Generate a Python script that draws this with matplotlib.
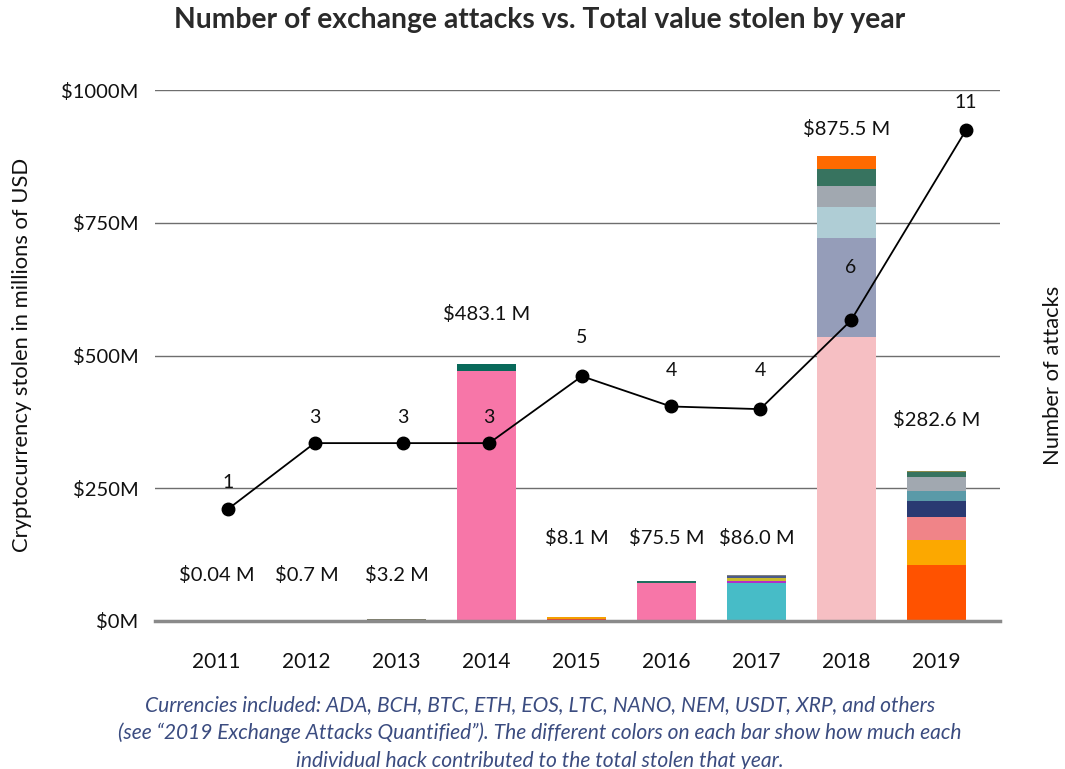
import matplotlib
matplotlib.use("Agg")
import matplotlib.pyplot as plt
import numpy as np

# ---- data ----
years = ["2011", "2012", "2013", "2014", "2015", "2016", "2017", "2018", "2019"]
totals = ["$0.04 M", "$0.7 M", "$3.2 M", "$483.1 M", "$8.1 M", "$75.5 M", "$86.0 M",
          "$875.5 M", "$282.6 M"]
attacks = [1, 3, 3, 3, 5, 4, 4, 6, 11]

# individual hacks per year, bottom to top ($M)
hacks_2011 = [0.04]
hacks_2012 = [0.7]
hacks_2013 = [2.4, 0.8]
hacks_2014 = [471.0, 12.1]
hacks_2015 = [1.5, 1.6, 3.5, 1.5]
hacks_2016 = [72.0, 2.5, 1.0]
hacks_2017 = [1.0, 70.0, 5.0, 5.5, 2.5, 2.0]
hacks_2018 = [534.0, 187.0, 58.0, 40.0, 32.0, 24.5]
hacks_2019 = [105.0, 48.0, 42.0, 31.0, 19.0, 26.0, 9.0, 2.6]

colors_2011 = ["#A08A4E"]
colors_2012 = ["#B09060"]
colors_2013 = ["#A23DB3", "#7E7E6A"]
colors_2014 = ["#F776A8", "#08695A"]
colors_2015 = ["#7B5EA7", "#E8412C", "#F59E00", "#8C8A4A"]
colors_2016 = ["#F776A8", "#1F6E5E", "#8A8A6A"]
colors_2017 = ["#C7A27A", "#47BCC7", "#B02FC9", "#C8BA2B", "#4A5A8A", "#808080"]
colors_2018 = ["#F6BFC3", "#959DB9", "#AFCDD5", "#A1A8B0", "#37735F", "#FF6A00"]
colors_2019 = ["#FF5200", "#FCA800", "#F08488", "#2A3A72", "#5A9AA8", "#A1A8B0",
               "#37735F", "#8C8A4A"]

# marker heights / x of the attack line as drawn (right axis, same 0-1000 frame)
attack_marker_y = [211, 335, 335, 335, 461, 404, 399, 566, 925]
attack_marker_x = [0.13, 1.09, 2.07, 3.03, 4.06, 5.05, 6.04, 7.05, 8.33]

hacks = [hacks_2011, hacks_2012, hacks_2013, hacks_2014, hacks_2015,
         hacks_2016, hacks_2017, hacks_2018, hacks_2019]
colors = [colors_2011, colors_2012, colors_2013, colors_2014, colors_2015,
          colors_2016, colors_2017, colors_2018, colors_2019]

# label placement (layout, data-units)
total_label_y = [87, 87, 87, 578, 156, 156, 156, 927, 379]
count_label_y = [260, 384, 384, 384, 533, 471, 471, 665, 976]

plt.rcParams["font.family"] = ["Lato", "DejaVu Sans"]
TEXT = "#111111"

fig = plt.figure(figsize=(10.65, 7.69), dpi=100)
ax = fig.add_axes([155 / 1065, 148 / 769, 845 / 1065, 531 / 769])

x = np.arange(len(years))
for i, (vals, cols) in enumerate(zip(hacks, colors)):
    bottom = 0.0
    for v, c in zip(vals, cols):
        ax.bar(x[i], v, bottom=bottom, width=0.656, color=c, edgecolor="none", zorder=3)
        bottom += v
    ax.text(x[i], total_label_y[i], totals[i],
            ha="center", va="center", fontsize=14.5, color=TEXT, zorder=5)

ax.set_xlim(-0.683, 8.706)
ax.set_ylim(0, 1000)
ax.set_yticks([0, 250, 500, 750, 1000])
ax.set_yticklabels(["$0M", "$250M", "$500M", "$750M", "$1000M"], fontsize=14.5, color=TEXT)
ax.set_xticks(x)
ax.set_xticklabels(years, fontsize=15, color=TEXT)
ax.tick_params(axis="both", length=0)
ax.tick_params(axis="y", pad=12)
ax.tick_params(axis="x", pad=22)
ax.grid(axis="y", color="#6E6E6E", linewidth=1.0, zorder=0)
for side in ["top", "right", "left"]:
    ax.spines[side].set_visible(False)
ax.spines["bottom"].set_color("#8A8A8A")
ax.spines["bottom"].set_linewidth(2.5)
ax.spines["bottom"].set_zorder(4)

fig.text(22 / 1065, 1 - 355 / 769, "Cryptocurrency stolen in millions of USD",
         rotation=90, ha="center", va="center", fontsize=15.8, color=TEXT)
fig.text(1053 / 1065, 1 - 375 / 769, "Number of attacks",
         rotation=90, ha="center", va="center", fontsize=15.8, color=TEXT)

ax2 = ax.twinx()
ax2.set_ylim(0, 1000)
ax2.set_yticks([])
for side in ["top", "right", "left", "bottom"]:
    ax2.spines[side].set_visible(False)
ax2.plot(attack_marker_x, attack_marker_y, color="black", linewidth=1.3,
         marker="o", markersize=9, zorder=6)
for xi, yi, n in zip(attack_marker_x, count_label_y, attacks):
    ax2.text(xi, yi, str(n), ha="center", va="center", fontsize=14, color=TEXT)

fig.text(540 / 1065, 1 - 20 / 769, "Number of exchange attacks vs. Total value stolen by year",
         ha="center", va="center", fontsize=20.3, fontweight="bold", color="#2A2A2A")

caption = ("Currencies included: ADA, BCH, BTC, ETH, EOS, LTC, NANO, NEM, USDT, XRP, and others\n"
           "(see \u201c2019 Exchange Attacks Quantified\u201d). The different colors on each bar show how much each\n"
           "individual hack contributed to the total stolen that year.")
fig.text(540 / 1065, 1 - 733 / 769, caption, ha="center", va="center", fontsize=15.1,
         style="italic", color="#3B4C80", linespacing=1.45)

fig.savefig("out.png", dpi=100)
